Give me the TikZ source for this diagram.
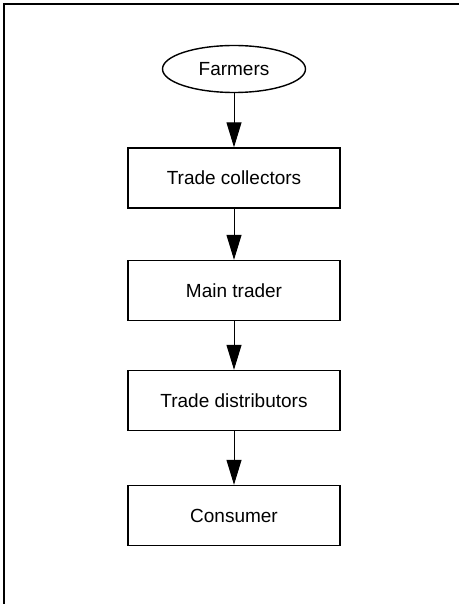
\documentclass[tikz,border=0pt]{standalone}
\usepackage{fontspec}
\setmainfont{Liberation Sans}
\usepackage{tikz}
\usetikzlibrary{arrows.meta,shapes.geometric}

\begin{document}
\begin{tikzpicture}[x=0.5pt, y=-0.5pt,
  stage/.style={draw, line width=0.7pt, minimum width=106pt, minimum height=30pt,
                inner sep=0pt, font=\fontsize{9.5}{11}\selectfont},
  origin/.style={stage, ellipse, minimum width=71.5pt, minimum height=23.5pt},
  flow/.style={-{Triangle[length=12.5pt, width=7.5pt]}, line width=0.5pt},
]
\useasboundingbox (0,0) rectangle (459,604);
\draw[line width=1pt] (4,604) -- (4,4.5) -- (459,4.5);
\node[origin] (farm) at (234,69)    {Farmers};
\node[stage]  (coll) at (234,178)   {Trade collectors};
\node[stage]  (main) at (234,290.5) {Main trader};
\node[stage]  (dist) at (234,400.5) {Trade distributors};
\node[stage]  (cons) at (234,515.5) {Consumer};
\draw[flow] (farm) -- (coll);
\draw[flow] (coll) -- (main);
\draw[flow] (main) -- (dist);
\draw[flow] (dist) -- (cons);
\end{tikzpicture}
\end{document}
